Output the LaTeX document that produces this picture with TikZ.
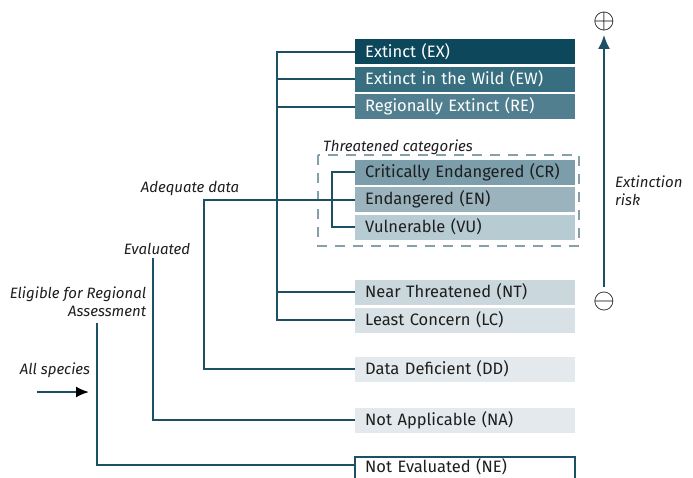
\documentclass[tikz,border=0pt]{standalone}
\usepackage{fontspec}
\setmainfont{Fira Sans}
\usepackage{tikz}
\usetikzlibrary{arrows.meta,positioning,calc}
\definecolor{linec}{HTML}{1D5064}
\definecolor{colEX}{HTML}{0C475B}
\definecolor{colEW}{HTML}{386F80}
\definecolor{colRE}{HTML}{527F8F}
\definecolor{colCR}{HTML}{7C9DAA}
\definecolor{colEN}{HTML}{9AB3BD}
\definecolor{colVU}{HTML}{B7CBD2}
\definecolor{colNT}{HTML}{CAD7DC}
\definecolor{colLC}{HTML}{D8E2E6}
\definecolor{colDD}{HTML}{E3E9EC}
\definecolor{dashc}{HTML}{86A0AB}
\definecolor{txtc}{HTML}{1E1E1E}
\tikzset{
  cat/.style={anchor=west, minimum width=220pt, minimum height=25pt, inner ysep=0pt,
    inner xsep=10pt, text width=200pt, align=left, text=txtc, font=\fontsize{16.5}{18}\selectfont},
  link/.style={draw=linec, line width=2pt},
  lab/.style={font=\fontsize{15}{18}\selectfont\itshape, text=txtc, inner sep=0pt}}

\begin{document}
\begin{tikzpicture}[x=1pt,y=-1pt]
\useasboundingbox (0,0) rectangle (693,477);
\clip (0,0) rectangle (693,477);
% threatened frame
\draw[dashc, line width=2pt, dash pattern=on 10pt off 8pt] (318,155) rectangle (579,246);
\node[lab, anchor=base west] (thrlab) at (323,151) {Threatened categories};
% categories
\node[cat, fill=colEX, text=white] (EX) at (355,51.5) {Extinct (EX)};
\node[cat, fill=colEW, text=white] (EW) at (355,79) {Extinct in the Wild (EW)};
\node[cat, fill=colRE, text=white] (RE) at (355,106.5) {Regionally Extinct (RE)};
\node[cat, fill=colCR] (CR) at (355,172) {Critically Endangered (CR)};
\node[cat, fill=colEN] (EN) at (355,199.5) {Endangered (EN)};
\node[cat, fill=colVU] (VU) at (355,227) {Vulnerable (VU)};
\node[cat, fill=colNT] (NT) at (355,292) {Near Threatened (NT)};
\node[cat, fill=colLC] (LC) at (355,320) {Least Concern (LC)};
\node[cat, fill=colDD] (DD) at (355,369) {Data Deficient (DD)};
\node[cat, fill=colDD] (NA) at (355,420) {Not Applicable (NA)};
\node[cat, minimum height=20pt, fill=white] (NE) at (355,467) {Not Evaluated (NE)};
\draw[link] ($(NE.south west)+(0,10)$) -- (NE.north west) -- (NE.north east) -- ($(NE.south east)+(0,10)$);
% tree
\coordinate (mtop) at (277,51.5);
\coordinate (mbot) at (277,320);
\draw[link] (EX.west) -- (mtop) -- (mbot) -- (LC.west);
\draw[link] (EW.west) -- (EW.west -| mtop);
\draw[link] (RE.west) -- (RE.west -| mtop);
\draw[link] (NT.west) -- (NT.west -| mtop);
\draw[link] (CR.west) -- ++(-23,0) |- (VU.west);
\coordinate (adq) at (204,199.5);
\draw[link] (EN.west) -- (adq) |- (DD.west);
\coordinate (evl) at (153,258);
\draw[link] (evl) |- (NA.west);
\coordinate (elg) at (97,323);
\draw[link] (elg) |- ([yshift=2pt]NE.west);
% labels
\node[lab] (adqlab) at (190,189) {Adequate data};
\node[lab] (evllab) at (157,249) {Evaluated};
\node[lab, align=right] (elglab) at (78,302) {Eligible for Regional\\Assessment};
\node[lab] (alllab) at (55,370) {All species};
\coordinate (start) at (37,392);
\coordinate (stop) at (89,392);
\draw[link, -{Latex[length=13pt,width=11pt,color=black]}] (start) -- (stop);
% risk axis
\node[inner sep=0pt, scale=2.8] (plus) at (604,21) {$\oplus$};
\node[inner sep=0pt, scale=2.8] (minus) at (604,301) {$\ominus$};
\draw[link, -{Latex[length=14pt,width=12pt]}] ([yshift=4pt]minus.north) -- ([yshift=-4pt]plus.south);
\node[lab, align=left, anchor=west] (risklab) at (615,191) {Extinction\\risk};
\end{tikzpicture}
\end{document}
